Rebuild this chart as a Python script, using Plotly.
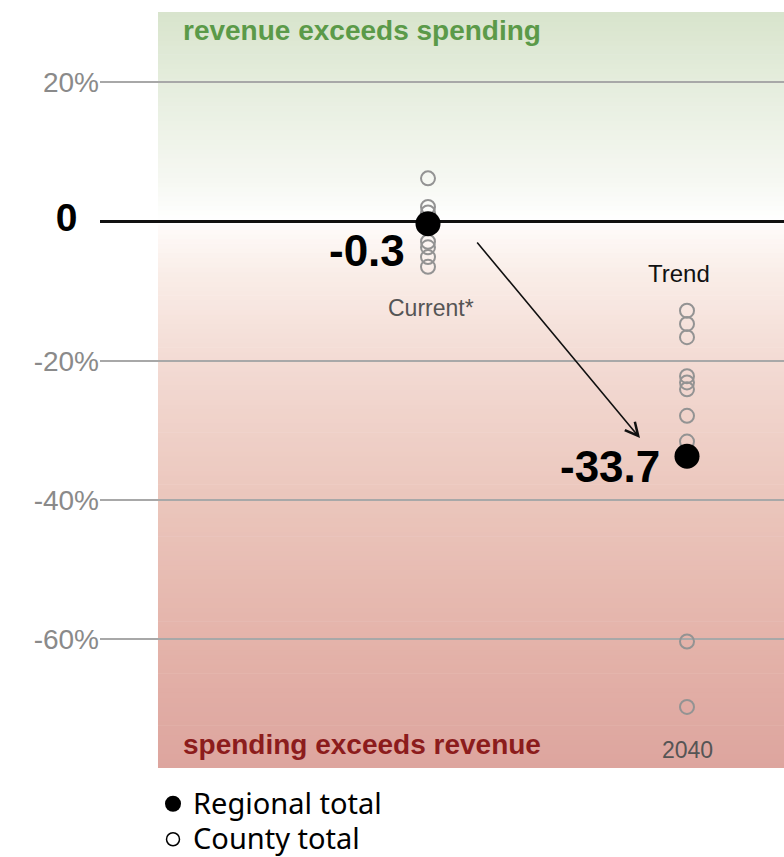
import numpy as np
import plotly.graph_objects as go

# ---------------- data ----------------
period_labels = ["Current*", "Trend"]
period_x = [1, 2]
regional_total = [-0.3, -33.7]
county_current = [6.2, 2.1, 1.3, -2.9, -3.7, -5.1, -6.5]
county_trend = [-12.8, -14.7, -16.6, -22.2, -23.1, -24.1, -27.9, -31.6, -60.3, -69.7]
trend_year = "2040"
y_tickvals = [20, 0, -20, -40, -60]
y_ticklabels = ["20%", "0", "-20%", "-40%", "-60%"]
legend_names = ["Regional total", "County total"]

# ---------------- layout constants ----------------
Y_RANGE = [-78.47, 30.09]
X_RANGE = [-0.2664, 2.3745]
SHADE_X0 = -0.0425

# background gradient stops (value, colour)
grad_stops = [(-78.47, (0xdd, 0xa5, 0x9e)), (-60, (0xe4, 0xb3, 0xaa)), (-40, (0xeb, 0xc6, 0xbc)),
              (-20, (0xf3, 0xdb, 0xd4)), (-8, (0xf9, 0xec, 0xe6)), (-1, (0xfe, 0xfa, 0xf8)),
              (0, (0xff, 0xff, 0xff)), (6, (0xf6, 0xf8, 0xf2)), (20, (0xe5, 0xed, 0xdd)),
              (30.09, (0xd8, 0xe4, 0xcc))]
gv = np.array([s[0] for s in grad_stops])
gc = np.array([s[1] for s in grad_stops], dtype=float)

N = 160
edges = np.linspace(Y_RANGE[0], Y_RANGE[1], N + 1)
shapes = []
for i in range(N):
    mid = 0.5 * (edges[i] + edges[i + 1])
    rgb = [int(round(np.interp(mid, gv, gc[:, k]))) for k in range(3)]
    shapes.append(dict(type="rect", xref="x", yref="y", x0=SHADE_X0, x1=X_RANGE[1],
                       y0=edges[i] - 0.05, y1=edges[i + 1] + 0.05,
                       fillcolor=f"rgb({rgb[0]},{rgb[1]},{rgb[2]})",
                       line=dict(width=0), layer="below"))

fig = go.Figure()

county_marker = dict(symbol="circle-open", size=14, color="#939393", line=dict(width=2))
fig.add_trace(go.Scatter(x=[period_x[0]] * len(county_current), y=county_current, mode="markers",
                         marker=county_marker, showlegend=False, hoverinfo="y"))
fig.add_trace(go.Scatter(x=[period_x[1]] * len(county_trend), y=county_trend, mode="markers",
                         marker=county_marker, showlegend=False, hoverinfo="y"))
fig.add_trace(go.Scatter(x=period_x, y=regional_total, mode="markers",
                         marker=dict(size=25, color="black"), showlegend=False, hoverinfo="y"))

# legend entries
fig.add_trace(go.Scatter(x=[None], y=[None], mode="markers",
                         name=f"<span style='font-size:29px'>{legend_names[0]}</span>",
                         marker=dict(size=22, color="black")))
fig.add_trace(go.Scatter(x=[None], y=[None], mode="markers",
                         name=f"<span style='font-size:29px'>{legend_names[1]}</span>",
                         marker=dict(symbol="circle-open", size=13, color="black", line=dict(width=1.5))))

annotations = []
num_font = dict(family="Liberation Sans", size=44, color="black")
for xv, v, xs, ys in zip(period_x, regional_total, [-21, -25], [-27, -10]):
    annotations.append(dict(x=xv, y=v, xref="x", yref="y", text=f"<b>{v:.1f}</b>",
                            showarrow=False, xanchor="right", yanchor="middle",
                            xshift=xs, yshift=ys, font=num_font))

annotations.append(dict(x=period_x[0], y=regional_total[0], text=period_labels[0], showarrow=False,
                        xshift=3, yshift=-84, font=dict(family="Liberation Sans", size=23, color="#555555")))
annotations.append(dict(x=period_x[1], y=max(county_trend), text=period_labels[1], showarrow=False,
                        xshift=-8, yshift=37, font=dict(family="Liberation Sans", size=24, color="#111111")))
annotations.append(dict(x=period_x[1], y=min(county_trend), text=trend_year, showarrow=False,
                        xshift=0, yshift=-43, font=dict(family="Liberation Sans", size=23, color="#555555")))

annotations.append(dict(x=SHADE_X0, y=Y_RANGE[1], xref="x", yref="y", text="<b>revenue exceeds spending</b>",
                        showarrow=False, xanchor="left", yanchor="top", xshift=23, yshift=-1,
                        font=dict(family="Liberation Sans", size=28, color="#5b9a49")))
annotations.append(dict(x=SHADE_X0, y=Y_RANGE[0], xref="x", yref="y", text="<b>spending exceeds revenue</b>",
                        showarrow=False, xanchor="left", yanchor="bottom", xshift=23, yshift=6,
                        font=dict(family="Liberation Sans", size=28, color="#8c1c1c")))

# arrow from current to trend
annotations.append(dict(x=1.8185, y=-31.1, ax=1.185, ay=-2.8, xref="x", yref="y", axref="x", ayref="y",
                        text="", showarrow=True, arrowhead=5, arrowsize=1.6, arrowwidth=1.6,
                        arrowcolor="#111111"))

ticktext = []
for v, t in zip(y_tickvals, y_ticklabels):
    if v == 0:
        ticktext.append("<span style='font-size:39px;color:black'><b>" + t + "</b>\u00a0\u00a0</span>")
    else:
        ticktext.append(t)

fig.update_layout(
    width=784, height=857,
    margin=dict(l=100, r=0, t=12, b=89, autoexpand=False),
    paper_bgcolor="white", plot_bgcolor="white",
    shapes=shapes, annotations=annotations,
    xaxis=dict(range=X_RANGE, visible=False, showgrid=False, zeroline=False),
    yaxis=dict(range=Y_RANGE, tickvals=y_tickvals, ticktext=ticktext, ticks="",
               showgrid=True, gridcolor="#a8a8a8", gridwidth=1.5,
               zeroline=True, zerolinecolor="#111111", zerolinewidth=2.5,
               showline=False,
               tickfont=dict(family="Liberation Sans", size=28, color="#8a8a8a")),
    legend=dict(x=0.0775, xanchor="left", yref="container", y=(857 - 781) / 857, yanchor="top",
                font=dict(family="Noto Sans", size=25, color="black"),
                bgcolor="rgba(0,0,0,0)", tracegroupgap=0, itemsizing="trace"),
    showlegend=True,
)

fig.write_html("out.html", config={"displayModeBar": False},
               post_script="document.body.style.margin='0px';document.documentElement.style.margin='0px';")
